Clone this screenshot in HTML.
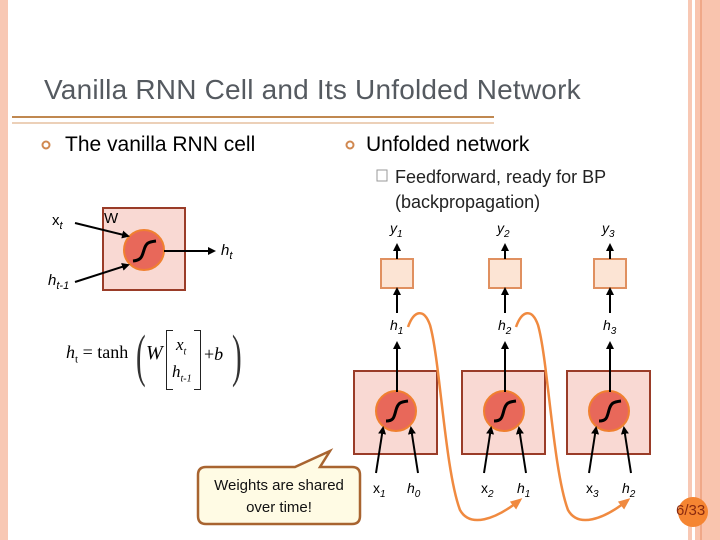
<!DOCTYPE html>
<html><head><meta charset="utf-8"><style>
body{margin:0;width:720px;height:540px;position:relative;background:#fff;font-family:"Liberation Sans",sans-serif;overflow:hidden}
.t{position:absolute;white-space:nowrap}
</style></head><body>
<div style="position:absolute;left:0;top:0;width:8px;height:540px;background:#f8c8b4"></div>
<div style="position:absolute;left:688px;top:0;width:4px;height:540px;background:#f8c8b4"></div>
<div style="position:absolute;left:695px;top:0;width:25px;height:540px;background:#f9c4ae"></div>
<div style="position:absolute;left:700px;top:0;width:2px;height:540px;background:#f0a888"></div>
<div class="t" style="left:44px;top:74px;font-size:28px;color:#555a60;letter-spacing:0.2px">Vanilla RNN Cell and Its Unfolded Network</div>
<div style="position:absolute;left:12px;top:116px;width:482px;height:2px;background:#c08850"></div>
<div style="position:absolute;left:12px;top:122px;width:482px;height:2px;background:#ecd0b8"></div>
<svg width="720" height="540" style="position:absolute;left:0;top:0">
<defs><marker id="a" markerWidth="8" markerHeight="8" refX="6" refY="4" orient="auto" markerUnits="userSpaceOnUse"><path d="M0,0 L8,4 L0,8z" fill="#000"/></marker>
<marker id="o" markerWidth="12" markerHeight="10" refX="9" refY="5" orient="auto" markerUnits="userSpaceOnUse"><path d="M0,0 L12,5 L0,10z" fill="#f08a40"/></marker></defs>
<circle cx="46" cy="145" r="3.5" fill="none" stroke="#d08850" stroke-width="2"/>
<circle cx="350" cy="145" r="3.5" fill="none" stroke="#d08850" stroke-width="2"/>
<rect x="377" y="170" width="10" height="11" fill="none" stroke="#999" stroke-width="1"/>
<rect x="103" y="208" width="82" height="82" fill="#f9d9d3" stroke="#9a3c28" stroke-width="2"/>
<circle cx="144" cy="250" r="20" fill="#e8685a" stroke="#f08030" stroke-width="2"/>
<path d="M133,261 C142,260 142,256 144,250 C146,243 148,242 156,241" fill="none" stroke="#000" stroke-width="3"/>
<line x1="75" y1="223" x2="128" y2="236" stroke="#000" stroke-width="2" marker-end="url(#a)"/>
<line x1="75" y1="282" x2="128" y2="265" stroke="#000" stroke-width="2" marker-end="url(#a)"/>
<line x1="164" y1="251" x2="214" y2="251" stroke="#000" stroke-width="2" marker-end="url(#a)"/>
<g id="u">
<rect x="381" y="259" width="32" height="29" fill="#fce4d4" stroke="#e09060" stroke-width="2"/>
<line x1="397" y1="259" x2="397" y2="245" stroke="#000" stroke-width="2" marker-end="url(#a)"/>
<line x1="397" y1="313" x2="397" y2="289" stroke="#000" stroke-width="2" marker-end="url(#a)"/>
<rect x="354" y="371" width="83" height="83" fill="#f9d9d3" stroke="#9a3c28" stroke-width="2"/>
<circle cx="396" cy="411" r="20" fill="#e8685a" stroke="#f08030" stroke-width="2"/>
<path d="M386,421 C394,421 394,417 396,410 C398,403 400,402 408,401" fill="none" stroke="#000" stroke-width="3"/>
<line x1="397" y1="392" x2="397" y2="343" stroke="#000" stroke-width="2" marker-end="url(#a)"/>
<line x1="376" y1="473" x2="383" y2="428" stroke="#000" stroke-width="2" marker-end="url(#a)"/>
<line x1="418" y1="473" x2="411" y2="428" stroke="#000" stroke-width="2" marker-end="url(#a)"/>
</g>
<use href="#u" x="108"/>
<use href="#u" x="213"/>
<path d="M408,327 C414,310 424,308 430,325 C440,360 445,470 460,510 C470,528 495,520 520,500" fill="none" stroke="#f08a40" stroke-width="2.5" marker-end="url(#o)"/>
<path d="M516,327 C522,310 532,308 538,325 C548,360 553,470 568,510 C578,528 603,520 628,500" fill="none" stroke="#f08a40" stroke-width="2.5" marker-end="url(#o)"/>
<path d="M208,467 L295,467 L330,451 L320,467 L352,467 Q360,467 360,475 L360,516 Q360,524 352,524 L206,524 Q198,524 198,516 L198,475 Q198,467 206,467z" fill="#fffbe4" stroke="#a86430" stroke-width="2.5"/>
<circle cx="693" cy="512" r="15" fill="#f58532"/>
</svg>
<div class="t" style="left:65px;top:133px;font-size:21px;color:#000">The vanilla RNN cell</div>
<div class="t" style="left:366px;top:133px;font-size:21px;color:#000">Unfolded network</div>
<div class="t" style="left:395px;top:167px;font-size:18px;color:#222">Feedforward, ready for BP</div>
<div class="t" style="left:395px;top:192px;font-size:18px;color:#222">(backpropagation)</div>
<div class="t" style="left:52px;top:212px;font-size:15px">x<sub style="font-style:italic;font-size:11px">t</sub></div>
<div class="t" style="left:104px;top:210px;font-size:15px">W</div>
<div class="t" style="left:221px;top:242px;font-size:15px;font-style:italic">h<sub style="font-size:11px">t</sub></div>
<div class="t" style="left:48px;top:272px;font-size:15px;font-style:italic">h<sub style="font-size:11px">t-1</sub></div>
<div class="t" style="left:66px;top:342px;font-size:18px;font-family:'Liberation Serif',serif"><i>h</i><sub style="font-size:11px">t</sub> = tanh</div>
<div class="t" style="left:136px;top:322px;font-size:58px;font-family:'Liberation Serif',serif;color:#333;transform:scaleX(0.5);transform-origin:left">(</div>
<div class="t" style="left:146px;top:342px;font-size:20px;font-family:'Liberation Serif',serif;font-style:italic">W</div>
<div style="position:absolute;left:166px;top:330px;width:6px;height:58px;border:1.5px solid #222;border-right:none"></div>
<div style="position:absolute;left:194px;top:330px;width:6px;height:58px;border:1.5px solid #222;border-left:none"></div>
<div class="t" style="left:176px;top:335px;font-size:17px;font-family:'Liberation Serif',serif;font-style:italic">x<sub style="font-size:10px">t</sub></div>
<div class="t" style="left:172px;top:362px;font-size:17px;font-family:'Liberation Serif',serif;font-style:italic">h<sub style="font-size:10px">t-1</sub></div>
<div class="t" style="left:204px;top:344px;font-size:18px;font-family:'Liberation Serif',serif">+<i>b</i></div>
<div class="t" style="left:232px;top:322px;font-size:58px;font-family:'Liberation Serif',serif;color:#333;transform:scaleX(0.5);transform-origin:left">)</div>
<div class="t" style="left:390px;top:220px;font-size:14px;font-style:italic">y<sub style="font-size:10px">1</sub></div>
<div class="t" style="left:497px;top:220px;font-size:14px;font-style:italic">y<sub style="font-size:10px">2</sub></div>
<div class="t" style="left:602px;top:220px;font-size:14px;font-style:italic">y<sub style="font-size:10px">3</sub></div>
<div class="t" style="left:390px;top:317px;font-size:14px;font-style:italic">h<sub style="font-size:10px">1</sub></div>
<div class="t" style="left:498px;top:317px;font-size:14px;font-style:italic">h<sub style="font-size:10px">2</sub></div>
<div class="t" style="left:603px;top:317px;font-size:14px;font-style:italic">h<sub style="font-size:10px">3</sub></div>
<div class="t" style="left:373px;top:480px;font-size:14px">x<sub style="font-size:10px;font-style:italic">1</sub></div>
<div class="t" style="left:407px;top:480px;font-size:14px;font-style:italic">h<sub style="font-size:10px">0</sub></div>
<div class="t" style="left:481px;top:480px;font-size:14px">x<sub style="font-size:10px;font-style:italic">2</sub></div>
<div class="t" style="left:517px;top:480px;font-size:14px;font-style:italic">h<sub style="font-size:10px">1</sub></div>
<div class="t" style="left:586px;top:480px;font-size:14px">x<sub style="font-size:10px;font-style:italic">3</sub></div>
<div class="t" style="left:622px;top:480px;font-size:14px;font-style:italic">h<sub style="font-size:10px">2</sub></div>
<div class="t" style="left:198px;top:475px;width:162px;text-align:center;font-size:15px;line-height:22px;color:#111">Weights are shared<br>over time!</div>
<div class="t" style="left:676px;top:502px;font-size:15px;color:#8a2a10">6/33</div>
</body></html>
